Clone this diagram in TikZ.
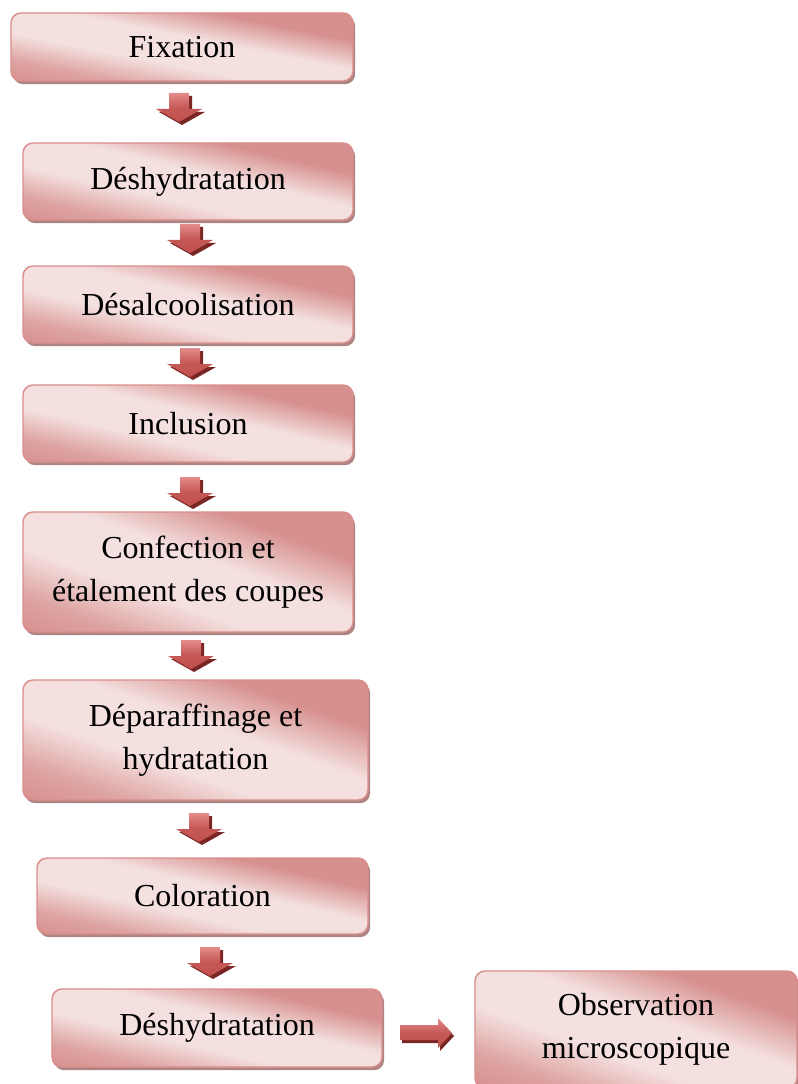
\documentclass[tikz,border=0pt]{standalone}
\usepackage{fontspec}
\setmainfont{Liberation Serif}
\definecolor{bdark}{RGB}{214,144,142}
\definecolor{blight}{RGB}{244,224,223}
\definecolor{bborder}{RGB}{218,142,140}
\definecolor{bshadow}{RGB}{172,132,132}
\definecolor{ared}{RGB}{192,80,77}
\definecolor{alight}{RGB}{228,140,138}
\definecolor{adark}{RGB}{122,38,36}
% background of a step box: centre (#1,#2), width #3, height #4, in px (y downwards)
\newcommand\boxbg[4]{%
  \pgfmathsetmacro\bx{#1-#3/2}%
  \pgfmathsetmacro\by{#2+#4/2}%
  \fill[bshadow, rounded corners=7.5pt] ({\bx+2.1},{\by+3.2}) rectangle ++(#3,-#4);
  \begin{scope}
    \clip[rounded corners=7.5pt] (\bx,\by) rectangle ++(#3,-#4);
    \foreach \i in {0,...,99}{%
      \pgfmathsetmacro\ua{\i/100}%
      \pgfmathsetmacro\ub{\ua+1.8/100}%
      \pgfmathsetmacro\uc{\ua+0.5/100}%
      \pgfmathsetmacro\pc{(\uc<0.15) ? (25*\uc/0.15) : ((\uc<0.35) ? (25+75*(\uc-0.15)/0.2) : ((\uc<0.58) ? 100 : ((\uc<0.8) ? (100-100*(\uc-0.58)/0.22) : 0)))}%
      \fill[blight!\pc!bdark] ({\bx-#3},{\by-(2*\ua+1)*#4}) -- ({\bx+(2*\ua+1)*#3},{\by+#4}) -- ({\bx+(2*\ub+1)*#3},{\by+#4}) -- ({\bx-#3},{\by-(2*\ub+1)*#4}) -- cycle;
    }
  \end{scope}}
\newcommand\stepnode[6]{%
  \boxbg{#2}{#3}{#4}{#5}%
  \node[stepbox, minimum width={#4*0.75pt}, minimum height={#5*0.75pt}] (#1) at (#2,#3) {#6};}
\tikzset{
  stepbox/.style={rectangle, rounded corners=7.5pt, draw=bborder, line width=1.1pt,
    align=center, font=\fontsize{24}{32}\selectfont, inner sep=0pt},
  arrowbody/.style={top color=alight, bottom color=ared, middle color=ared!85!alight},
  arrowshadow/.style={fill=adark},
  darrow/.pic={
    \fill[arrowshadow] (-7,3) -- (13,3) -- (13,19) -- (26,19) -- (3,32) -- (-20,19) -- (-7,19) -- cycle;
    \shade[arrowbody] (-10,0) -- (10,0) -- (10,16) -- (23,16) -- (0,29) -- (-23,16) -- (-10,16) -- cycle;
  },
  rarrow/.pic={
    \fill[arrowshadow] (2,3) -- (40,3) -- (40,-4) -- (54,11) -- (40,26) -- (40,18) -- (2,18) -- cycle;
    \shade[arrowbody] (0,0) -- (38,0) -- (38,-7) -- (52,8) -- (38,23) -- (38,15) -- (0,15) -- cycle;
  }
}
\begin{document}
\begin{tikzpicture}[x=0.75pt,y=-0.75pt]
\useasboundingbox (0,0) rectangle (798,1084);
\stepnode{b1}{182}{47}{342}{68}{Fixation}
\stepnode{b2}{188}{181.5}{330}{77}{Déshydratation}
\stepnode{b3}{188}{304.5}{330}{77}{Désalcoolisation}
\stepnode{b4}{188}{423.5}{330}{77}{Inclusion}
\stepnode{b5}{188}{572}{330}{120}{Confection et\\étalement des coupes}
\stepnode{b6}{195.5}{740}{345}{120}{Déparaffinage et\\hydratation}
\stepnode{b7}{202.5}{896}{331}{76}{Coloration}
\stepnode{b8}{217}{1028}{330}{78}{Déshydratation}
\stepnode{b9}{636}{1029.5}{322}{117}{Observation\\microscopique}
\pic (a1) at (179,93) {darrow};
\pic (a2) at (190,224) {darrow};
\pic (a3) at (190,348) {darrow};
\pic (a4) at (190,477) {darrow};
\pic (a5) at (191,640) {darrow};
\pic (a6) at (199,813) {darrow};
\pic (a7) at (210,947) {darrow};
\pic (a8) at (400,1025) {rarrow};
\end{tikzpicture}
\end{document}
